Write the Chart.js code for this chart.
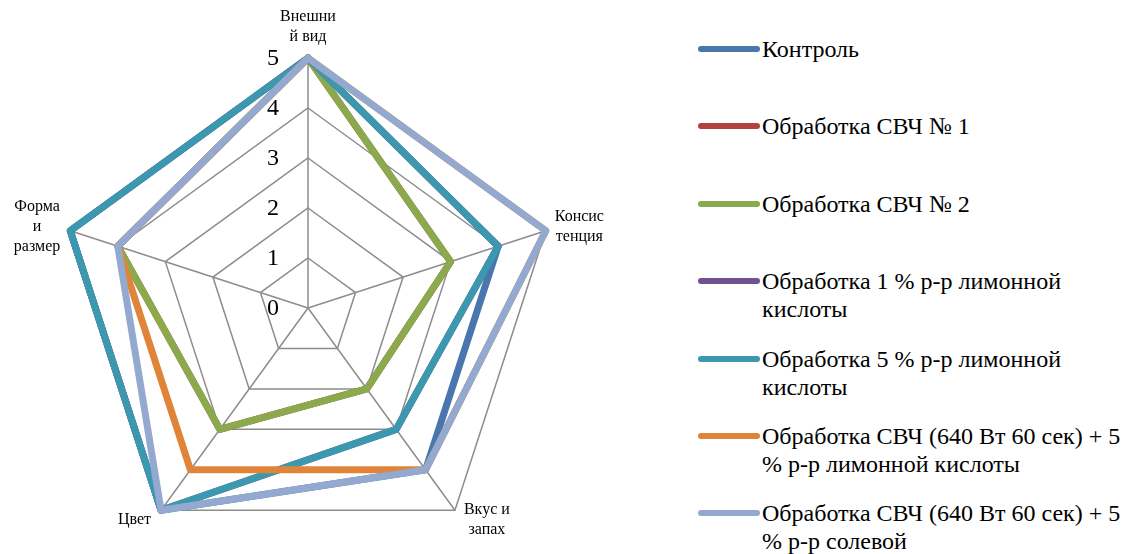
<!DOCTYPE html>
<html>
<head>
<meta charset="utf-8">
<script src="https://cdn.jsdelivr.net/npm/chart.js@4"></script>
<style>
  body { margin: 0; background: #fff; overflow: hidden; width: 1130px; height: 554px; position: relative; }
  #radar { position: absolute; left: 0; top: 0; }
  #legend { position: absolute; left: 698px; top: 35px; width: 432px; font-family: "Liberation Serif", "Times New Roman", serif; }
  .item { display: flex; height: 77.4px; }
  .mark { width: 62px; height: 6px; border-radius: 3px; margin-top: 11px; flex: none; }
  .txt { margin-left: 2px; width: 368px; font-size: 24px; line-height: 28px; color: #000; }
</style>
</head>
<body>
<canvas id="radar" width="620" height="558"></canvas>
<div id="legend"></div>
<script>
// категории (оси), разбиты по строкам как на рисунке
const categories = [["Внешни", "й вид"], ["Консис", "тенция"], ["Вкус и", "запах"], ["Цвет"], ["Форма", "и", "размер"]];
const tickLabels = ["0", "1", "2", "3", "4", "5"];

const seriesNames = [
    "Контроль",
    "Обработка СВЧ № 1",
    "Обработка СВЧ № 2",
    "Обработка 1 % р-р лимонной кислоты",
    "Обработка 5 % р-р лимонной кислоты",
    "Обработка СВЧ (640 Вт 60 сек) + 5 % р-р лимонной кислоты",
    "Обработка СВЧ (640 Вт 60 сек) + 5 % р-р солевой"
];
const control    = [5, 4, 4, 5, 5];
const svch1      = [5, 3, 2, 3, 4];
const svch2      = [5, 3, 2, 3, 4];
const lemon1     = [5, 4, 3, 5, 5];
const lemon5     = [5, 4, 3, 5, 5];
const svchLemon  = [5, 5, 4, 4, 4];
const svchSalt   = [5, 5, 4, 5, 4];
const seriesColors = ["#4a76ae", "#b0433f", "#8ba94d", "#6f5391", "#3c98ae", "#e0843a", "#93a9cf"];

const allSeries = [control, svch1, svch2, lemon1, lemon5, svchLemon, svchSalt];

// подписи осей и делений рисуем сами, чтобы поставить их как в Excel
const labelPlugin = {
    id: 'labelPlugin',
    afterDraw(chart) {
        const ctx = chart.ctx;
        const s = chart.scales.r;
        ctx.save();
        ctx.fillStyle = '#000';

        ctx.font = '24px "Liberation Serif", serif';
        ctx.textAlign = 'center';
        ctx.textBaseline = 'middle';
        s.ticks.forEach(function(t) {
            ctx.fillText(t.label, s.xCenter - 35, s.yCenter - s.getDistanceFromCenterForValue(t.value) + 1);
        });

        ctx.font = '16px "Liberation Serif", serif';
        const lh = 20;
        chart.data.labels.forEach(function(lines, i) {
            const p = s.getPointPosition(i, s.drawingArea);
            const dx = (p.x - s.xCenter) / s.drawingArea;
            const dy = (p.y - s.yCenter) / s.drawingArea;
            const w = Math.max.apply(null, lines.map(l => ctx.measureText(l).width));
            const h = lines.length * lh;
            let cx, top;
            if (Math.abs(dx) < 0.1) {
                cx = p.x;
                top = p.y - 11 - h;
            } else {
                cx = dx > 0 ? p.x + 9 + w / 2 : p.x - 10 - w / 2;
                top = p.y + 12 * dy - h / 2;
            }
            lines.forEach(function(l, k) {
                ctx.fillText(l, cx, top + lh / 2 + k * lh);
            });
        });
        ctx.restore();
    }
};

document.addEventListener("DOMContentLoaded", function() {
    const n = allSeries.length;
    let ctx = document.getElementById('radar').getContext('2d');
    new Chart(ctx, {
        type: 'radar',
        data: {
            labels: categories,
            datasets: allSeries.map(function(vals, i) {
                return {
                    label: seriesNames[i],
                    data: vals,
                    borderColor: seriesColors[i],
                    backgroundColor: 'transparent',
                    borderWidth: 7,
                    borderJoinStyle: 'round',
                    pointRadius: 0,
                    fill: false,
                    order: n - i
                };
            })
        },
        options: {
            responsive: false,
            animation: false,
            layout: { padding: { left: 58, top: 58, right: 62, bottom: 0 } },
            plugins: { legend: { display: false }, tooltip: { enabled: false } },
            scales: {
                r: {
                    min: 0,
                    max: 5,
                    ticks: { display: false, stepSize: 1, callback: (v, idx) => tickLabels[idx] },
                    grid: { color: '#8c8c8c', lineWidth: 1.5 },
                    angleLines: { color: '#8c8c8c', lineWidth: 1.5 },
                    pointLabels: { display: false }
                }
            }
        },
        plugins: [labelPlugin]
    });

    const legend = document.getElementById('legend');
    seriesNames.forEach(function(name, i) {
        const item = document.createElement('div');
        item.className = 'item';
        const mark = document.createElement('div');
        mark.className = 'mark';
        mark.style.background = seriesColors[i];
        const txt = document.createElement('div');
        txt.className = 'txt';
        txt.textContent = name;
        item.appendChild(mark);
        item.appendChild(txt);
        legend.appendChild(item);
    });
});
</script>
</body>
</html>
